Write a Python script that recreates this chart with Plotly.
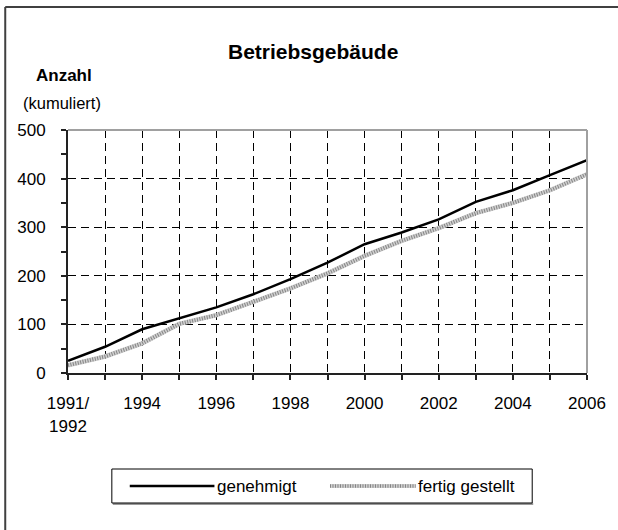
import plotly.graph_objects as go

# ── Data ────────────────────────────────────────────────────────────────────
years = ["1991/1992", "1993", "1994", "1995", "1996", "1997", "1998", "1999",
         "2000", "2001", "2002", "2003", "2004", "2005", "2006"]
genehmigt = [25, 54, 90, 112, 135, 162, 193, 227, 265, 289, 316, 352, 376, 407, 438]
fertig_gestellt = [16, 34, 61, 101, 119, 147, 174, 205, 241, 272, 298, 329, 350, 376, 409]
tick_labels = ["1991/<br>1992", "", "1994", "", "1996", "", "1998", "",
               "2000", "", "2002", "", "2004", "", "2006"]

W, H = 618, 530
L, R, T, B = 68, 29, 130, 157
FONT = "Liberation Sans, Arial, sans-serif"


def px_x(px):
    return (px - L) / (W - L - R)


def px_y(py):
    return (H - B - py) / (H - T - B)


fig = go.Figure()

# gray textured line: light base + fine dashed overlay
fig.add_trace(go.Scatter(x=years, y=fertig_gestellt, mode="lines",
                         line=dict(color="#d0d0d0", width=4.5),
                         hoverinfo="skip", showlegend=False))
fig.add_trace(go.Scatter(x=years, y=fertig_gestellt, mode="lines",
                         line=dict(color="#858585", width=4, dash="1px,1.5px"),
                         name="fertig gestellt", showlegend=False))
fig.add_trace(go.Scatter(x=years, y=genehmigt, mode="lines",
                         line=dict(color="#000000", width=2.5),
                         name="genehmigt", showlegend=False))

fig.update_layout(
    width=W, height=H,
    margin=dict(l=L, r=R, t=T, b=B),
    paper_bgcolor="white", plot_bgcolor="white",
    font=dict(family=FONT, color="#000000", size=17),
    showlegend=False,
)

fig.update_xaxes(
    type="category", range=[0, 14],
    tickmode="array", tickvals=years, ticktext=tick_labels,
    ticks="outside", ticklen=5, tickcolor="#222", tickwidth=1.5,
    showline=True, linecolor="#222", linewidth=2,
    showgrid=True, gridcolor="#000", gridwidth=1, griddash="8px,5px",
    tickfont=dict(size=17), ticklabelstandoff=9,
    zeroline=False, fixedrange=True,
)
fig.update_yaxes(
    range=[0, 500], tickvals=[0, 100, 200, 300, 400, 500],
    ticks="outside", ticklen=5, tickcolor="#222", tickwidth=1.5,
    minor=dict(tickvals=[50, 150, 250, 350, 450], ticks="outside",
               ticklen=5, tickcolor="#222", tickwidth=1.5, showgrid=False),
    showline=True, linecolor="#222", linewidth=2,
    showgrid=True, gridcolor="#000", gridwidth=1, griddash="8px,5px",
    tickfont=dict(size=17), ticklabelstandoff=12,
    zeroline=False, fixedrange=True,
)

# gray top / right frame of the plot area
fig.add_shape(type="line", xref="paper", yref="paper", x0=0, x1=1, y0=1, y1=1,
              line=dict(color="#a0a0a0", width=2), layer="above")
fig.add_shape(type="line", xref="paper", yref="paper", x0=1, x1=1, y0=0, y1=1,
              line=dict(color="#a0a0a0", width=2), layer="above")

# outer chart border (left and top visible)
fig.add_shape(type="line", xref="paper", yref="paper",
              x0=px_x(5), x1=px_x(5), y0=px_y(7), y1=px_y(H + 5),
              line=dict(color="#404040", width=2))
fig.add_shape(type="line", xref="paper", yref="paper",
              x0=px_x(5), x1=px_x(W + 5), y0=px_y(7), y1=px_y(7),
              line=dict(color="#404040", width=2))

# title and axis caption
fig.add_annotation(text="<b>Betriebsgebäude</b>", xref="paper", yref="paper",
                   x=px_x(314), y=px_y(51), showarrow=False,
                   xanchor="center", yanchor="middle", font=dict(size=21))
fig.add_annotation(text="<b>Anzahl</b>", xref="paper", yref="paper",
                   x=px_x(64), y=px_y(76), showarrow=False,
                   xanchor="center", yanchor="middle", font=dict(size=17))
fig.add_annotation(text="(kumuliert)", xref="paper", yref="paper",
                   x=px_x(62), y=px_y(103), showarrow=False,
                   xanchor="center", yanchor="middle", font=dict(size=16.5))

# legend box
fig.add_shape(type="line", xref="paper", yref="paper",
              x0=px_x(113), x1=px_x(535), y0=px_y(504), y1=px_y(504),
              line=dict(color="#9a9a9a", width=2))
fig.add_shape(type="rect", xref="paper", yref="paper",
              x0=px_x(112), x1=px_x(534), y0=px_y(503), y1=px_y(469),
              line=dict(color="#000", width=1), fillcolor="white")
ly = px_y(486)
fig.add_shape(type="line", xref="paper", yref="paper",
              x0=px_x(130), x1=px_x(215), y0=ly, y1=ly,
              line=dict(color="#000", width=2.5))
fig.add_shape(type="line", xref="paper", yref="paper",
              x0=px_x(331), x1=px_x(417), y0=ly, y1=ly,
              line=dict(color="#d0d0d0", width=4))
fig.add_shape(type="line", xref="paper", yref="paper",
              x0=px_x(331), x1=px_x(417), y0=ly, y1=ly,
              line=dict(color="#858585", width=3.5, dash="1px,1.5px"))
fig.add_annotation(text="genehmigt", xref="paper", yref="paper",
                   x=px_x(216), y=ly, showarrow=False,
                   xanchor="left", yanchor="middle", font=dict(size=17))
fig.add_annotation(text="fertig gestellt", xref="paper", yref="paper",
                   x=px_x(417), y=ly, showarrow=False,
                   xanchor="left", yanchor="middle", font=dict(size=17))

# drop the browser's default body margin so the figure sits at (0, 0)
fig.write_html("out.html", config={"displayModeBar": False},
               post_script="document.body.style.margin='0px';")
